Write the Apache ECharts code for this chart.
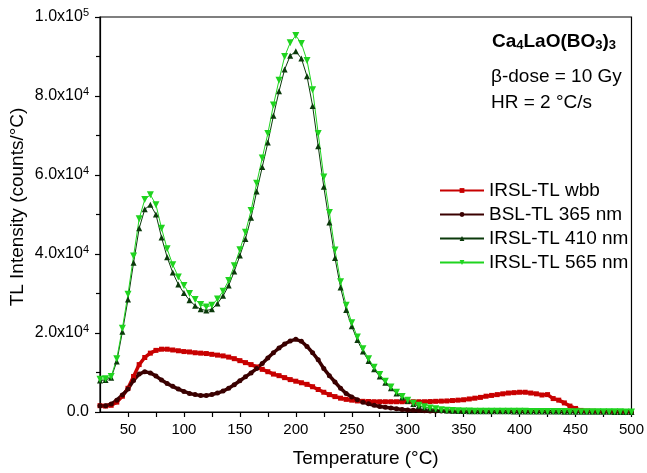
<!DOCTYPE html>
<html>
<head>
<meta charset="utf-8">
<script src="https://cdn.jsdelivr.net/npm/echarts@6/dist/echarts.min.js"></script>
<style>
  html, body { margin: 0; padding: 0; background: #fff; }
  #chart { width: 647px; height: 473px; }
</style>
</head>
<body>
<div id="chart"></div>
<script>
// Temperature grid (°C)
const temps = [
  25, 30, 35, 40, 45, 50, 55, 60, 65, 70,
  75, 80, 85, 90, 95, 100, 105, 110, 115, 120,
  125, 130, 135, 140, 145, 150, 155, 160, 165, 170,
  175, 180, 185, 190, 195, 200, 205, 210, 215, 220,
  225, 230, 235, 240, 245, 250, 255, 260, 265, 270,
  275, 280, 285, 290, 295, 300, 305, 310, 315, 320,
  325, 330, 335, 340, 345, 350, 355, 360, 365, 370,
  375, 380, 385, 390, 395, 400, 405, 410, 415, 420,
  425, 430, 435, 440, 445, 450, 455, 460, 465, 470,
  475, 480, 485, 490, 495, 500
];

// TL intensity (counts/°C)
const irslWbb = [
  1600, 1500, 1700, 2500, 4000, 6000, 9000, 12000, 13800, 14900,
  15600, 15900, 15900, 15700, 15500, 15300, 15200, 15000, 14900, 14800,
  14600, 14400, 14200, 13900, 13500, 13000, 12500, 12000, 11400, 10800,
  10200, 9600, 9200, 8700, 8200, 7800, 7400, 7000, 6400, 5700,
  5000, 4400, 3900, 3500, 3200, 3000, 2800, 2700, 2650, 2600,
  2600, 2600, 2600, 2600, 2600, 2600, 2600, 2600, 2600, 2650,
  2700, 2750, 2800, 2900, 3000, 3100, 3300, 3500, 3700, 4000,
  4200, 4400, 4600, 4800, 4900, 5000, 5000, 4800, 4600, 4300,
  4400, 3400, 3000, 2300, 1500, 900, 400, 250, 200, 150,
  120, 100, 100, 80, 80, 60
];

const bsl365 = [
  1600, 1600, 2000, 3000, 4300, 5800, 8000, 9600, 10200, 9900,
  9100, 8100, 7200, 6500, 5800, 5200, 4700, 4400, 4200, 4200,
  4400, 4800, 5300, 6000, 6900, 7900, 8900, 9900, 11000, 12300,
  13700, 15000, 16200, 17200, 18000, 18400, 17900, 16600, 15000, 13200,
  11000, 9200, 7600, 6000, 4700, 3800, 3100, 2500, 2100, 1700,
  1400, 1200, 1000, 800, 650, 500, 420, 350, 300, 270,
  250, 240, 230, 220, 210, 200, 200, 200, 190, 190,
  190, 180, 180, 180, 170, 170, 170, 160, 160, 160,
  150, 150, 150, 150, 140, 140, 140, 140, 130, 130,
  130, 130, 120, 120, 120, 120
];

const irsl410 = [
  8000, 8100, 8700, 12800, 20300, 28500, 37800, 46500, 51300, 52500,
  50000, 44200, 39200, 35300, 32300, 30100, 28300, 26900, 26000, 25700,
  26000, 27500, 29400, 32000, 35600, 39600, 43800, 49200, 55800, 62000,
  68200, 75000, 81200, 86700, 90200, 91300, 89500, 85000, 77500, 67300,
  57000, 48000, 39000, 31500, 25800, 21700, 18200, 15300, 12900, 10800,
  9000, 7400, 6000, 4700, 3700, 2800, 2000, 1500, 1150, 900,
  700, 530, 400, 320, 270, 240, 220, 200, 190, 180,
  180, 170, 160, 160, 150, 150, 140, 140, 130, 120,
  110, 100, 100, 90, 80, 70, 60, 60, 50, 50,
  40, 40, 30, 30, 30, 20
];

const irsl565 = [
  8300, 8400, 9000, 13500, 21200, 29800, 39500, 48900, 53800, 55000,
  52500, 46500, 41300, 37300, 34200, 32000, 30000, 28500, 27200, 26600,
  27000, 28600, 30600, 33300, 37000, 41100, 45500, 51000, 57900, 64300,
  70500, 77700, 84000, 90000, 93500, 95300, 93300, 89000, 81600, 70500,
  59500, 50500, 41000, 33000, 27000, 22600, 19000, 16000, 13500, 11300,
  9500, 7800, 6300, 5000, 3900, 3000, 2200, 1700, 1300, 1000,
  800, 600, 450, 350, 300, 260, 240, 220, 210, 200,
  200, 190, 180, 180, 170, 170, 160, 150, 150, 140,
  130, 120, 110, 100, 90, 80, 70, 60, 60, 50,
  50, 40, 40, 40, 30, 30
];

const xMajorTicks = [50, 100, 150, 200, 250, 300, 350, 400, 450, 500];
const xAllTicks = [50, 75, 100, 125, 150, 175, 200, 225, 250, 275, 300, 325, 350, 375, 400, 425, 450, 475, 500];

const pair = (ys) => temps.map((t, i) => [t, ys[i]]);

const FONT = 'Liberation Sans, Arial, sans-serif';

const chart = echarts.init(document.getElementById('chart'), null, { renderer: 'canvas' });

function mkSeries(name, ys, color, symbol, size, rotate, width) {
  return {
    name: name,
    type: 'line',
    data: pair(ys),
    symbol: symbol,
    symbolSize: size,
    symbolRotate: rotate,
    showAllSymbol: true,
    lineStyle: { color: color, width: width },
    itemStyle: { color: color, borderWidth: 0 },
    emphasis: { disabled: true },
    animation: false
  };
}

chart.setOption({
  backgroundColor: '#ffffff',
  animation: false,
  textStyle: { fontFamily: FONT },
  grid: {
    left: 100, right: 14, top: 17, bottom: 60,
    show: true, borderColor: '#000', borderWidth: 1.2, backgroundColor: 'transparent'
  },
  xAxis: {
    type: 'value',
    min: 25, max: 500,
    name: 'Temperature (°C)',
    nameLocation: 'middle',
    nameGap: 37,
    nameTextStyle: { fontSize: 19, color: '#000', fontFamily: FONT },
    axisLine: { show: true, onZero: false, lineStyle: { color: '#000', width: 1.2 } },
    axisTick: { show: true, inside: false, length: 5, customValues: xAllTicks, lineStyle: { color: '#000', width: 1.2 } },
    axisLabel: { customValues: xMajorTicks, fontSize: 15, color: '#000', margin: 10, fontFamily: FONT },
    splitLine: { show: false }
  },
  yAxis: {
    type: 'value',
    min: 0, max: 100000, interval: 20000,
    axisLine: { show: true, onZero: false, lineStyle: { color: '#000', width: 1.2 } },
    axisTick: { show: true, inside: false, length: 5, lineStyle: { color: '#000', width: 1.2 } },
    minorTick: { show: true, splitNumber: 2, length: 4, lineStyle: { color: '#000', width: 1.2 } },
    axisLabel: {
      fontSize: 16, color: '#000', margin: 11, fontFamily: FONT,
      formatter: function (v) {
        if (v === 0) return '0.0';
        const e = Math.floor(Math.log10(v));
        const m = (v / Math.pow(10, e)).toFixed(1);
        return m + 'x10{sup|' + e + '}';
      },
      rich: {
        sup: { fontSize: 11, verticalAlign: 'top', padding: [0, 0, 9, 0], color: '#000', fontFamily: FONT }
      }
    },
    splitLine: { show: false }
  },
  legend: {
    orient: 'vertical',
    left: 439, top: 181,
    padding: 0,
    width: 208,
    itemWidth: 44, itemHeight: 6,
    itemGap: 5,
    textStyle: { fontSize: 19, color: '#000', fontFamily: FONT, lineHeight: 19, width: 150, overflow: 'none' },
    data: ['IRSL-TL wbb', 'BSL-TL 365 nm', 'IRSL-TL 410 nm', 'IRSL-TL 565 nm']
  },
  graphic: [
    {
      type: 'text', x: 18, y: 207, rotation: Math.PI / 2,
      style: {
        text: 'TL Intensity (counts/°C)', font: '19px ' + FONT, fill: '#000',
        align: 'center', verticalAlign: 'middle'
      }
    },
    {
      type: 'text', left: 492, top: 32,
      style: {
        text: 'Ca{sub|4}LaO(BO{sub|3}){sub|3}',
        font: 'bold 19px ' + FONT,
        fill: '#000',
        rich: {
          sub: { fontSize: 13, fontWeight: 'bold', verticalAlign: 'bottom', padding: [7, 0, 0, 0], fill: '#000', fontFamily: FONT }
        }
      }
    },
    {
      type: 'text', left: 491, top: 67,
      style: { text: 'β-dose = 10 Gy', font: '19px ' + FONT, fill: '#000' }
    },
    {
      type: 'text', left: 491, top: 93,
      style: { text: 'HR = 2 °C/s', font: '19px ' + FONT, fill: '#000' }
    }
  ],
  series: [
    mkSeries('IRSL-TL wbb', irslWbb, '#c80000', 'rect', 5, 0, 3.5),
    mkSeries('BSL-TL 365 nm', bsl365, '#3a0000', 'circle', 5, 0, 3.5),
    mkSeries('IRSL-TL 410 nm', irsl410, '#0b3a0b', 'triangle', 6, 0, 1),
    mkSeries('IRSL-TL 565 nm', irsl565, '#1fd41f', 'triangle', 7, 180, 1)
  ]
});
</script>
</body>
</html>
